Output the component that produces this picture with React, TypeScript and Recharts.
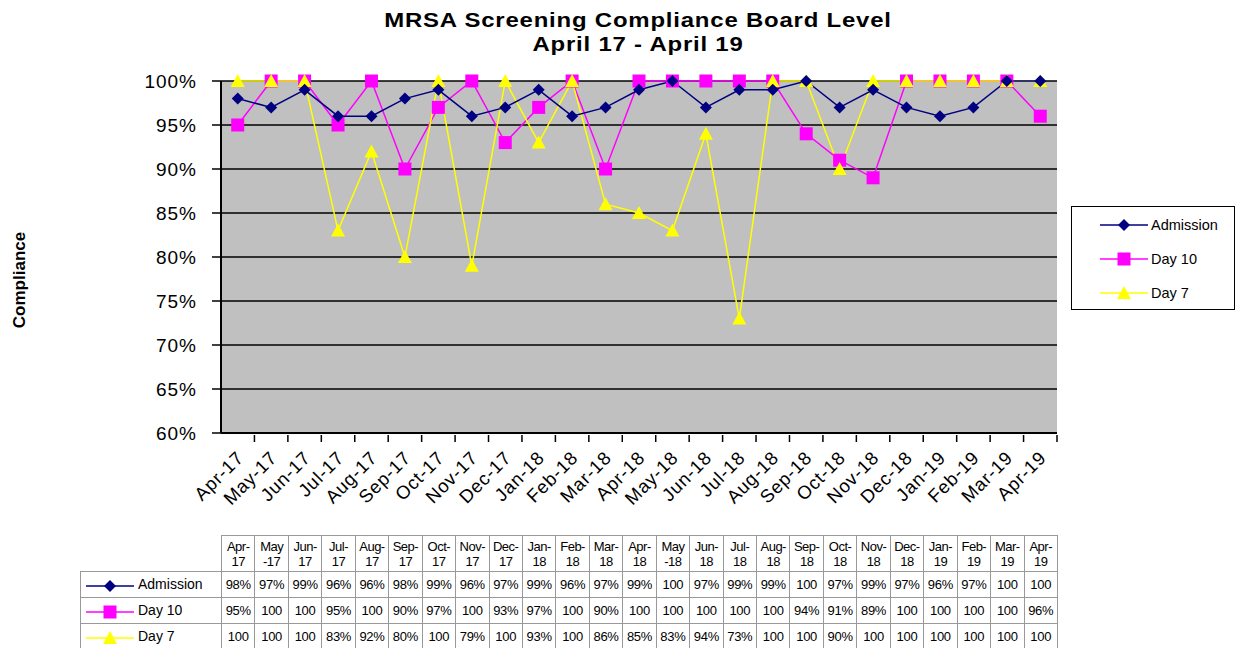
import { LineChart, Line, XAxis, YAxis, CartesianGrid } from "recharts";

const MONTHS = [
  "Apr-17", "May-17", "Jun-17", "Jul-17", "Aug-17", "Sep-17", "Oct-17", "Nov-17", "Dec-17",
  "Jan-18", "Feb-18", "Mar-18", "Apr-18", "May-18", "Jun-18", "Jul-18", "Aug-18", "Sep-18",
  "Oct-18", "Nov-18", "Dec-18", "Jan-19", "Feb-19", "Mar-19", "Apr-19",
];
const ADMISSION = [98, 97, 99, 96, 96, 98, 99, 96, 97, 99, 96, 97, 99, 100, 97, 99, 99, 100, 97, 99, 97, 96, 97, 100, 100];
const DAY10 = [95, 100, 100, 95, 100, 90, 97, 100, 93, 97, 100, 90, 100, 100, 100, 100, 100, 94, 91, 89, 100, 100, 100, 100, 96];
const DAY7 = [100, 100, 100, 83, 92, 80, 100, 79, 100, 93, 100, 86, 85, 83, 94, 73, 100, 100, 90, 100, 100, 100, 100, 100, 100];
const Y_TICKS = [60, 65, 70, 75, 80, 85, 90, 95, 100];

const SERIES = [
  { key: "admission", name: "Admission", color: "#000080", values: ADMISSION, marker: "diamond" },
  { key: "day10", name: "Day 10", color: "#FF00FF", values: DAY10, marker: "square" },
  { key: "day7", name: "Day 7", color: "#FFFF00", values: DAY7, marker: "triangle" },
];

const data = MONTHS.map((m, i) => ({
  month: m,
  admission: ADMISSION[i],
  day10: DAY10[i],
  day7: DAY7[i],
}));

const FONT = '"Liberation Sans", Arial, sans-serif';
const PLOT_LEFT = 221;
const PLOT_RIGHT = 1057;
const BAND = (PLOT_RIGHT - PLOT_LEFT) / MONTHS.length;

function Marker({ kind, cx, cy, color }: any) {
  if (cx == null || cy == null) return null;
  if (kind === "diamond") {
    return <path d={`M${cx},${cy - 6}L${cx + 6},${cy}L${cx},${cy + 6}L${cx - 6},${cy}Z`} fill={color} />;
  }
  if (kind === "square") {
    return <rect x={cx - 6.5} y={cy - 6.5} width={13} height={13} fill={color} />;
  }
  return <path d={`M${cx},${cy - 7}L${cx + 7},${cy + 6}L${cx - 7},${cy + 6}Z`} fill={color} />;
}

function XTick({ x, y, payload }: any) {
  const tx = x + 7;
  const ty = y + 24;
  return (
    <g>
      <line x1={x + BAND / 2} y1={y} x2={x + BAND / 2} y2={y + 7} stroke="#000" strokeWidth={1.5} />
      <text
        x={tx}
        y={ty}
        textAnchor="end"
        transform={`rotate(-45, ${tx}, ${ty})`}
        fontSize={18.5}
        letterSpacing={0.8}
        fontFamily={FONT}
        fill="#000"
      >
        {payload.value}
      </text>
    </g>
  );
}

function YTick({ y, payload }: any) {
  return (
    <text x={PLOT_LEFT - 24} y={y} dy="0.35em" textAnchor="end" fontSize={19} letterSpacing={1} fontFamily={FONT} fill="#000">
      {`${payload.value}%`}
    </text>
  );
}

function KeyIcon({ color, marker, width = 48 }: any) {
  return (
    <svg width={width} height={14} style={{ verticalAlign: "middle" }}>
      <line x1={0} y1={7} x2={width} y2={7} stroke={color} strokeWidth={1.5} />
      <Marker kind={marker} cx={width / 2} cy={7} color={color} />
    </svg>
  );
}

function headerLines(m: string) {
  const [mon, yr] = m.split("-");
  if (mon === "May") return [mon, "-" + yr];
  return [mon + "-", yr];
}

const fmt = (v: number) => (v === 100 ? "100" : `${v}%`);

export default function App() {
  const cell: any = {
    border: "1px solid #999",
    width: BAND,
    padding: 0,
    textAlign: "center",
    fontSize: 13,
    letterSpacing: -0.3,
    whiteSpace: "nowrap",
    overflow: "hidden",
  };
  return (
    <div style={{ position: "absolute", left: 0, top: 0, width: 1237, height: 648, background: "#fff", fontFamily: FONT, overflow: "hidden" }}>
      <div
        style={{
          position: "absolute",
          left: 0,
          width: 1276,
          top: 8,
          textAlign: "center",
          fontWeight: "bold",
          fontSize: 21,
          letterSpacing: 0.7,
          lineHeight: "24px",
          color: "#000",
          transform: "scaleX(1.14)",
          transformOrigin: "638px 0",
        }}
      >
        MRSA Screening Compliance Board Level
        <br />
        April 17 - April 19
      </div>
      <div
        style={{
          position: "absolute",
          left: 20,
          top: 280,
          transform: "translate(-50%, -50%) rotate(-90deg)",
          fontWeight: "bold",
          fontSize: 17,
          whiteSpace: "nowrap",
        }}
      >
        Compliance
      </div>
      <LineChart width={1237} height={648} data={data} margin={{ top: 81, right: 180, bottom: 155, left: 141 }}>
        <CartesianGrid horizontal vertical={false} stroke="#000" strokeWidth={1.5} fill="#C0C0C0" fillOpacity={1} />
        <XAxis
          dataKey="month"
          interval={0}
          height={60}
          padding={{ left: BAND / 2, right: BAND / 2 }}
          tickLine={false}
          tickSize={0}
          tick={<XTick />}
          axisLine={{ stroke: "#000", strokeWidth: 2 }}
        />
        <YAxis
          domain={[60, 100]}
          ticks={Y_TICKS}
          width={80}
          tick={<YTick />}
          tickLine={{ stroke: "#000", strokeWidth: 1.5 }}
          tickSize={9}
          tickMargin={0}
          axisLine={{ stroke: "#000", strokeWidth: 2 }}
        />
        <YAxis yAxisId="r" orientation="right" width={0} domain={[60, 100]} tick={false} tickLine={false} axisLine={{ stroke: "#888", strokeWidth: 2 }} />
        {[SERIES[1], SERIES[2], SERIES[0]].map((s) => (
          <Line
            key={s.key}
            dataKey={s.key}
            name={s.name}
            stroke={s.color}
            strokeWidth={1.5}
            isAnimationActive={false}
            dot={(p: any) => <Marker key={`${s.key}-${p.index}`} kind={s.marker} cx={p.cx} cy={p.cy} color={s.color} />}
            activeDot={false}
          />
        ))}
      </LineChart>
      <div
        style={{
          position: "absolute",
          left: 1071,
          top: 206,
          width: 164,
          height: 104,
          border: "1.5px solid #000",
          boxSizing: "border-box",
          background: "#fff",
          paddingTop: 1,
        }}
      >
        {SERIES.map((s) => (
          <div key={s.key} style={{ display: "flex", alignItems: "center", height: 34, paddingLeft: 28, fontSize: 14.5 }}>
            <KeyIcon color={s.color} marker={s.marker} width={48} />
            <span style={{ marginLeft: 3 }}>{s.name}</span>
          </div>
        ))}
      </div>
      <table
        style={{
          position: "absolute",
          left: 80,
          top: 535,
          borderCollapse: "collapse",
          tableLayout: "fixed",
          width: PLOT_RIGHT - 80,
          fontFamily: FONT,
          color: "#000",
        }}
      >
        <colgroup>
          <col style={{ width: PLOT_LEFT - 80 }} />
          {MONTHS.map((m) => (
            <col key={m} style={{ width: BAND }} />
          ))}
        </colgroup>
        <tbody>
          <tr style={{ height: 36 }}>
            <td style={{ padding: 0 }} />
            {MONTHS.map((m) => {
              const [a, b] = headerLines(m);
              return (
                <td key={m} style={{ ...cell, lineHeight: "15px", letterSpacing: -0.5 }}>
                  {a}
                  <br />
                  {b}
                </td>
              );
            })}
          </tr>
          {SERIES.map((s) => (
            <tr key={s.key} style={{ height: 26 }}>
              <td style={{ border: "1px solid #999", padding: "0 0 0 5px", fontSize: 14, whiteSpace: "nowrap" }}>
                <KeyIcon color={s.color} marker={s.marker} width={48} />
                <span style={{ marginLeft: 4 }}>{s.name}</span>
              </td>
              {s.values.map((v, i) => (
                <td key={i} style={cell}>
                  {fmt(v)}
                </td>
              ))}
            </tr>
          ))}
        </tbody>
      </table>
    </div>
  );
}
